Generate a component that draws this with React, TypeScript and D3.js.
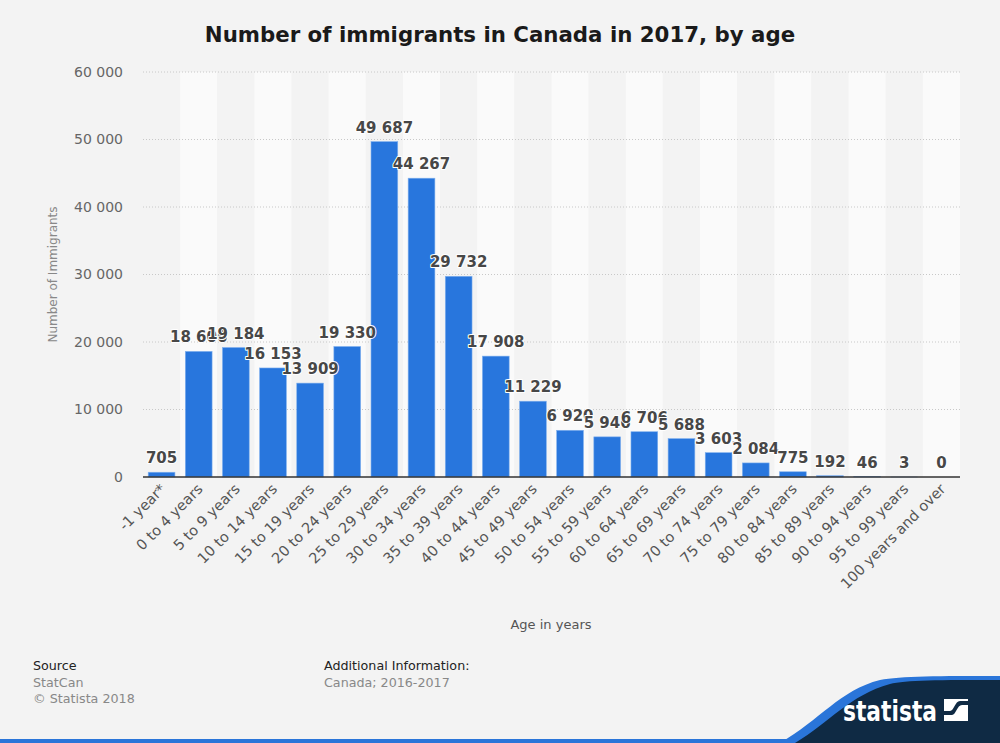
import { useEffect, useRef } from 'react';
import * as d3 from 'd3';

const ageGroups = [
  '-1 year*', '0 to 4 years', '5 to 9 years', '10 to 14 years', '15 to 19 years',
  '20 to 24 years', '25 to 29 years', '30 to 34 years', '35 to 39 years', '40 to 44 years',
  '45 to 49 years', '50 to 54 years', '55 to 59 years', '60 to 64 years', '65 to 69 years',
  '70 to 74 years', '75 to 79 years', '80 to 84 years', '85 to 89 years', '90 to 94 years',
  '95 to 99 years', '100 years and over',
];
const immigrants = [
  705, 18606, 19184, 16153, 13909, 19330, 49687, 44267, 29732, 17908, 11229,
  6920, 5946, 6706, 5688, 3603, 2084, 775, 192, 46, 3, 0,
];
const yTicks = [0, 10000, 20000, 30000, 40000, 50000, 60000];

const W = 1000;
const H = 743;
const FONT = '"DejaVu Sans", sans-serif';

const fmt = (v: number) => d3.format(',')(v).replace(/,/g, ' ');

export default function App() {
  const svgRef = useRef<SVGSVGElement>(null);

  useEffect(() => {
    if (!svgRef.current) return;
    const svg = d3.select(svgRef.current);
    svg.selectAll('*').remove();

    const margin = { top: 72, right: 40, bottom: 266, left: 143 };
    const innerW = W - margin.left - margin.right;
    const innerH = H - margin.top - margin.bottom;

    svg.append('rect').attr('width', W).attr('height', H).attr('fill', '#f3f3f3');

    // Title
    svg.append('text')
      .attr('x', W / 2)
      .attr('y', 42)
      .attr('text-anchor', 'middle')
      .attr('font-family', FONT)
      .attr('font-size', '21.3px')
      .attr('font-weight', 'bold')
      .attr('fill', '#1a1a1a')
      .text('Number of immigrants in Canada in 2017, by age');

    const g = svg.append('g').attr('transform', `translate(${margin.left},${margin.top})`);

    const x = d3.scaleBand().domain(ageGroups).range([0, innerW]).paddingInner(0.28).paddingOuter(0.14);
    const y = d3.scaleLinear().domain([0, 60000]).range([innerH, 0]);
    const step = x.step();

    // Alternating column bands
    g.selectAll('.band')
      .data(ageGroups)
      .join('rect')
      .attr('x', (_, i) => i * step)
      .attr('y', 0)
      .attr('width', step)
      .attr('height', innerH)
      .attr('fill', (_, i) => (i % 2 === 1 ? '#fafafa' : '#f3f3f3'));

    // Grid lines
    g.selectAll('.grid')
      .data(yTicks.filter(t => t > 0))
      .join('line')
      .attr('x1', 0)
      .attr('x2', innerW)
      .attr('y1', d => y(d))
      .attr('y2', d => y(d))
      .attr('stroke', '#c8c8c8')
      .attr('stroke-width', 1)
      .attr('stroke-dasharray', '1,2');

    // Y tick labels
    g.selectAll('.ytick')
      .data(yTicks)
      .join('text')
      .attr('x', -20)
      .attr('y', d => y(d))
      .attr('dy', '0.35em')
      .attr('text-anchor', 'end')
      .attr('font-family', FONT)
      .attr('font-size', '14px')
      .attr('fill', '#666')
      .text(d => fmt(d));

    // Y axis title
    svg.append('text')
      .attr('transform', `translate(57,${margin.top + y(30000)}) rotate(-90)`)
      .attr('text-anchor', 'middle')
      .attr('font-family', FONT)
      .attr('font-size', '12px')
      .attr('fill', '#888')
      .text('Number of Immigrants');

    // Bars
    g.selectAll('.bar')
      .data(immigrants)
      .join('rect')
      .attr('x', (_, i) => x(ageGroups[i])!)
      .attr('y', d => y(d))
      .attr('width', x.bandwidth())
      .attr('height', d => innerH - y(d))
      .attr('fill', '#2876dd')
      .attr('stroke', '#7fb0ee')
      .attr('stroke-width', 0.6);

    // Value labels
    g.selectAll('.val')
      .data(immigrants)
      .join('text')
      .attr('x', (_, i) => x(ageGroups[i])! + x.bandwidth() / 2)
      .attr('y', d => y(d) - 9)
      .attr('text-anchor', 'middle')
      .attr('font-family', FONT)
      .attr('font-size', '15px')
      .attr('font-weight', 'bold')
      .attr('fill', '#474747')
      .attr('stroke', '#ffffff')
      .attr('stroke-width', 2)
      .attr('stroke-linejoin', 'round')
      .attr('paint-order', 'stroke')
      .text(d => fmt(d));

    // X axis line
    g.append('line')
      .attr('x1', 0)
      .attr('x2', innerW)
      .attr('y1', innerH)
      .attr('y2', innerH)
      .attr('stroke', '#333')
      .attr('stroke-width', 1.5);

    // X labels
    g.selectAll('.xlab')
      .data(ageGroups)
      .join('text')
      .attr('transform', d => `translate(${x(d)! + x.bandwidth() / 2 + 5},${innerH + 13}) rotate(-45)`)
      .attr('text-anchor', 'end')
      .attr('font-family', FONT)
      .attr('font-size', '14.5px')
      .attr('fill', '#555')
      .text(d => d);

    // X axis title
    svg.append('text')
      .attr('x', 551)
      .attr('y', 629)
      .attr('text-anchor', 'middle')
      .attr('font-family', FONT)
      .attr('font-size', '13px')
      .attr('fill', '#555')
      .text('Age in years');

    // Footer
    const footer = [
      { x: 33, y: 670, text: 'Source', fill: '#222' },
      { x: 33, y: 687, text: 'StatCan', fill: '#888' },
      { x: 33, y: 703, text: '© Statista 2018', fill: '#888' },
      { x: 324, y: 670, text: 'Additional Information:', fill: '#222' },
      { x: 324, y: 687, text: 'Canada; 2016-2017', fill: '#888' },
    ];
    svg.selectAll('.foot')
      .data(footer)
      .join('text')
      .attr('x', d => d.x)
      .attr('y', d => d.y)
      .attr('font-family', FONT)
      .attr('font-size', '12.7px')
      .attr('fill', d => d.fill)
      .text(d => d.text);

    // Bottom blue line
    svg.append('rect').attr('x', 0).attr('y', 739).attr('width', W).attr('height', 4).attr('fill', '#2a75d9');

    // Logo
    svg.append('path')
      .attr('d', 'M780,743 C820,720 840,690 880,680 C900,676 940,676 1000,676 L1000,743 Z')
      .attr('fill', '#2a75d9');
    svg.append('path')
      .attr('d', 'M795,743 C830,722 850,695 890,684 C905,680 940,680 1000,680 L1000,743 Z')
      .attr('fill', '#0f2a44');
    svg.append('text')
      .attr('x', 843)
      .attr('y', 721)
      .attr('font-family', FONT)
      .attr('font-size', '28px')
      .attr('font-weight', 'bold')
      .attr('fill', '#ffffff')
      .attr('textLength', 94)
      .attr('lengthAdjust', 'spacingAndGlyphs')
      .text('statista');
    const logo = svg.append('g').attr('transform', 'translate(944,699)');
    logo.append('rect').attr('width', 24).attr('height', 22).attr('fill', '#ffffff');
    logo.append('path')
      .attr('d', 'M0,16 L8,16 C12,16 13,6 18,6 L24,6 L24,2 L16,2 C11,2 10,12 6,12 L0,12 Z')
      .attr('fill', '#0f2a44');
  }, []);

  return (
    <svg
      ref={svgRef}
      width={W}
      height={H}
      style={{ position: 'absolute', left: 0, top: 0, display: 'block' }}
    />
  );
}
